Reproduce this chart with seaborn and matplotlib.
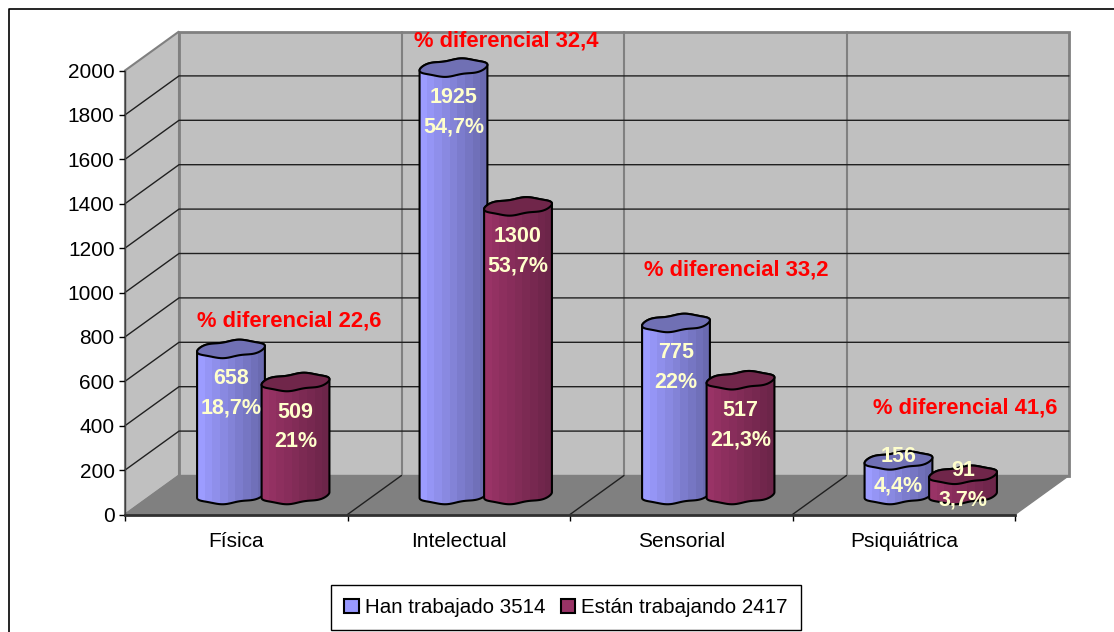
# plot.py
# Personas con discapacidad: han trabajado / estan trabajando (imitacion de barras 3D con cilindros)

import numpy as np
import pandas as pd
import matplotlib
matplotlib.use("Agg")
import matplotlib.pyplot as plt
import seaborn as sns
from matplotlib.path import Path
from matplotlib.patches import PathPatch, Polygon
from matplotlib.lines import Line2D
from matplotlib.transforms import IdentityTransform

# ── datos ──
categorias = ["Física", "Intelectual", "Sensorial", "Psiquiátrica"]
han_trabajado = [658, 1925, 775, 156]
estan_trabajando = [509, 1300, 517, 91]
pct_han = ["18,7%", "54,7%", "22%", "4,4%"]
pct_estan = ["21%", "53,7%", "21,3%", "3,7%"]
diferencial = ["22,6", "32,4", "33,2", "41,6"]
series = ["Han trabajado 3514", "Están trabajando 2417"]
y_ticks = [0, 200, 400, 600, 800, 1000, 1200, 1400, 1600, 1800, 2000]

W, H = 1114, 632
LEFT, BASE, PW, PH = 125, 514.5, 890, 444   # plano frontal en pixeles
DX, DY = 54, 39                             # profundidad 3D

sns.set_theme(style="white")
plt.rcParams["font.family"] = ["Liberation Sans", "DejaVu Sans"]

df = pd.DataFrame({
    "categoria": categorias * 2,
    "serie": [series[0]] * 4 + [series[1]] * 4,
    "valor": han_trabajado + estan_trabajando,
})

fig = plt.figure(figsize=(W / 100, H / 100), dpi=100, facecolor="white")
# marco exterior: solo arriba e izquierda, el resto queda fuera del recorte
fig.add_artist(Line2D([8.5 / W, 8.5 / W, 1], [0, 1 - 8.5 / H, 1 - 8.5 / H],
                      transform=fig.transFigure, color="black", lw=1.2))

wall = fig.add_axes([0, 0, 1, 1], zorder=0)
wall.set_xlim(0, W)
wall.set_ylim(0, H)
wall.axis("off")

ax = fig.add_axes([LEFT / W, (H - BASE) / H, PW / W, PH / H], zorder=1)
ax.patch.set_alpha(0)
ax.set_xlim(-0.5, 3.5)
ax.set_ylim(0, 2000)
ax.set_yticks(y_ticks)
ax.set_xticks([-0.5, 0.5, 1.5, 2.5, 3.5])
ax.set_xticklabels([])
ax.set_xticks(range(4), categorias, minor=True)
ax.tick_params(axis="y", length=4.5, width=1, color="black", pad=3, labelsize=15, left=True, labelcolor="black")
ax.tick_params(axis="x", which="major", length=4.5, width=1, color="black", bottom=True)
ax.tick_params(axis="x", which="minor", length=0, pad=12.5, labelsize=15, labelcolor="black")
for lado in ["top", "right"]:
    ax.spines[lado].set_visible(False)
ax.spines["left"].set_color("#404040")
ax.spines["left"].set_linewidth(1)
ax.spines["bottom"].set_color("#303030")
ax.spines["bottom"].set_linewidth(2)


def frontal(x, v):
    # coordenada del plano frontal -> pixel
    return ax.transData.transform((x, v))


# ── paredes y suelo ──
p00, p40 = frontal(-0.5, 0), frontal(3.5, 0)
p02, p42 = frontal(-0.5, 2000), frontal(3.5, 2000)
fondo = np.array([DX, DY])
wall.add_patch(Polygon([p00, p02, p02 + fondo, p00 + fondo], fc="#C0C0C0", ec="#808080", lw=1.5, zorder=1))
wall.add_patch(Polygon([p00 + fondo, p02 + fondo, p42 + fondo, p40 + fondo], fc="#C0C0C0", ec="#808080", lw=2, zorder=1))
wall.add_patch(Polygon([p00, p00 + fondo, p40 + fondo, p40], fc="#808080", ec="#808080", lw=1, zorder=2))
for v in y_ticks[1:-1]:
    a = frontal(-0.5, v)
    b = frontal(3.5, v)
    wall.plot([a[0], a[0] + DX, b[0] + DX], [a[1], a[1] + DY, b[1] + DY], color="#202020", lw=1, zorder=3)
for x in [0.5, 1.5, 2.5]:
    a = frontal(x, 0)
    c = frontal(x, 2000)
    wall.plot([a[0] + DX, c[0] + DX], [a[1] + DY, c[1] + DY], color="#808080", lw=1.5, zorder=2)
    wall.plot([a[0], a[0] + DX], [a[1], a[1] + DY], color="#202020", lw=1, zorder=3)

# ── barras: van en un eje desplazado a media profundidad ──
bar_ax = fig.add_axes([(LEFT + DX / 2) / W, (H - BASE + DY / 2) / H, PW / W, PH / H], zorder=2)
bar_ax.patch.set_alpha(0)
colores = {series[0]: "#9999FF", series[1]: "#993366"}
sns.barplot(data=df, x="categoria", y="valor", hue="serie", order=categorias, hue_order=series,
            palette=colores, saturation=1, width=0.58, edgecolor="black", linewidth=1.5, ax=bar_ax)
bar_ax.set_xlim(-0.5, 3.5)
bar_ax.set_ylim(0, 2000)

handles, labels = bar_ax.get_legend_handles_labels()
leg = bar_ax.legend(handles, labels, ncol=2, loc="center", bbox_to_anchor=(566 / W, 1 - 607.5 / H),
                    bbox_transform=fig.transFigure, fontsize=14.8, frameon=True, fancybox=False,
                    edgecolor="black", framealpha=1, handlelength=0.7, handleheight=0.7,
                    handletextpad=0.3, columnspacing=0.75, borderpad=0.62, borderaxespad=0, labelcolor="black")
leg.get_frame().set_linewidth(1)
bar_ax.axis("off")
leg.set_visible(True)

TILT = np.deg2rad(5)
RY = 8.0


def arco(cx, cy, rx, t):
    # elipse algo inclinada y ondulada, como la del original
    ox = rx * np.cos(t)
    oy = RY * np.sin(t) + 0.8 * np.sin(2 * np.pi * ox / rx)
    return np.column_stack([cx + ox * np.cos(TILT) - oy * np.sin(TILT),
                            cy + ox * np.sin(TILT) + oy * np.cos(TILT)])


def cilindro(patch, claro, oscuro, tapa, z):
    x0, x1 = patch.get_x() - 0.008, patch.get_x() + patch.get_width() + 0.008
    v = patch.get_height()
    cx = bar_ax.transData.transform(((x0 + x1) / 2, 0))[0]
    rx = (bar_ax.transData.transform((x1, 0))[0] - bar_ax.transData.transform((x0, 0))[0]) / 2
    y0 = bar_ax.transData.transform((0, 0))[1]
    y1 = bar_ax.transData.transform((0, v))[1]
    abajo = arco(cx, y0, rx, np.linspace(np.pi, 2 * np.pi, 60))
    arriba = arco(cx, y1, rx, np.linspace(0, np.pi, 60))
    cuerpo = np.vstack([abajo, arriba, abajo[:1]])
    path = Path(cuerpo, closed=True)
    clip = PathPatch(path, transform=IdentityTransform())
    # degradado a bandas verticales
    c0 = np.array(matplotlib.colors.to_rgb(claro))
    c1 = np.array(matplotlib.colors.to_rgb(oscuro))
    img = np.linspace(c0, c1, 9)[None, :, :]
    im = bar_ax.imshow(img, extent=(x0, x1, -120, v + 120), aspect="auto", interpolation="nearest", zorder=z)
    im.set_clip_path(clip)
    im.set_clip_box(fig.bbox)
    bar_ax.add_patch(PathPatch(path, transform=IdentityTransform(), fc="none", ec="black", lw=1.5,
                               zorder=z + 0.1, clip_on=False))
    tapa_xy = arco(cx, y1, rx, np.linspace(0, 2 * np.pi, 120))
    bar_ax.add_patch(Polygon(tapa_xy, closed=True, transform=IdentityTransform(), fc=tapa, ec="black",
                             lw=1.5, zorder=z + 0.2, clip_on=False))


estilos = [("#9C9CFF", "#6A6AB0", "#7070B4"), ("#993366", "#6C2549", "#70264A")]
for s, cont in enumerate(bar_ax.containers):
    for patch in cont:
        patch.set_visible(False)
        cilindro(patch, *estilos[s], z=3 + 2 * s)
bar_ax.set_xlim(-0.5, 3.5)
bar_ax.set_ylim(0, 2000)

# ── etiquetas de valor ──
crema = "#FFFFCC"
for s, (vals, pcts) in enumerate([(han_trabajado, pct_han), (estan_trabajando, pct_estan)]):
    for patch, v, pct in zip(bar_ax.containers[s], vals, pcts):
        xc = patch.get_x() + patch.get_width() / 2
        off = 4 if v < 200 else -30
        bar_ax.annotate(str(v), (xc, v), xytext=(0, off), textcoords="offset pixels", ha="center", va="center",
                        color=crema, fontsize=15.5, fontweight="bold", zorder=9, annotation_clip=False)
        bar_ax.annotate(pct, (xc, v), xytext=(0, off - 29.5), textcoords="offset pixels", ha="center", va="center",
                        color=crema, fontsize=15.5, fontweight="bold", zorder=9, annotation_clip=False)

# ── textos rojos ──
pos_dif = [(289, 321), (506, 41), (736, 270), (965, 408)]
for (px, py), d in zip(pos_dif, diferencial):
    fig.text(px / W, 1 - py / H, f"% diferencial {d}", ha="center", va="center",
             color="#FF0000", fontsize=15.8, fontweight="bold", zorder=10)

fig.savefig("out.png", dpi=100)
